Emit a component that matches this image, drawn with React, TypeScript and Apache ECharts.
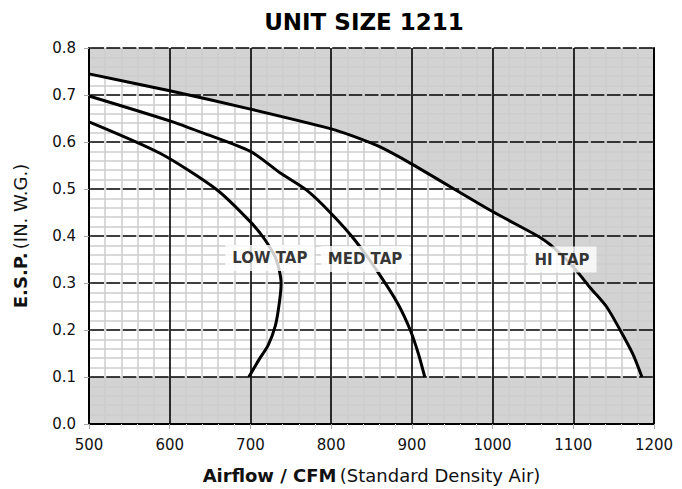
import React, { useEffect, useRef } from "react";
import * as echarts from "echarts";

// ---- data ----
const lowTap: [number, number][] = [
  [500, 0.643], [588, 0.576], [658, 0.499], [700, 0.43], [718, 0.392],
  [732, 0.35], [738, 0.3], [736, 0.26], [731, 0.21], [722, 0.168],
  [711, 0.138], [698, 0.1],
];
const medTap: [number, number][] = [
  [500, 0.698], [600, 0.645], [640, 0.62], [700, 0.58], [737, 0.534],
  [770, 0.497], [800, 0.448], [830, 0.39], [860, 0.318], [883, 0.255],
  [898, 0.2], [908, 0.15], [916, 0.1],
];
const hiTap: [number, number][] = [
  [500, 0.745], [600, 0.709], [700, 0.67], [800, 0.628], [828, 0.612],
  [860, 0.59], [900, 0.553], [1000, 0.452], [1058, 0.398], [1071, 0.382],
  [1090, 0.352], [1106, 0.322], [1121, 0.29], [1141, 0.25], [1158, 0.2],
  [1174, 0.148], [1185, 0.1],
];
const rightEdge: [number, number][] = [[1200, 0.1]];
const tapNames = ["LOW TAP", "MED TAP", "HI TAP"];
const tapLabelAnchors: [number, number][] = [[724, 0.353], [842, 0.351], [1086, 0.35]];
const operatingFloor = 0.1;
const xRange = [500, 1200];
const yRange = [0, 0.8];

const FONT = "'DejaVu Sans', 'Open Sans', sans-serif";
const GRAY = "#d3d3d3";

export default function App() {
  const ref = useRef<HTMLDivElement>(null);
  useEffect(() => {
    if (!ref.current) return;
    const chart = echarts.init(ref.current, null, { renderer: "svg" });
    const minorPx = 16.14;
    chart.setOption({
      animation: false,
      backgroundColor: "#ffffff",
      title: {
        text: "UNIT SIZE 1211",
        left: 359,
        top: 5,
        textAlign: "center",
        textStyle: { fontFamily: FONT, fontWeight: "bold", fontSize: 23, color: "#000" },
      },
      grid: {
        left: 89, right: 28, top: 48, bottom: 64,
        show: true, backgroundColor: "#ffffff", borderWidth: 0,
      },
      xAxis: [
        {
          type: "value", min: xRange[0], max: xRange[1], interval: 100, position: "bottom", z: 3,
          axisLine: { show: true, onZero: false, lineStyle: { color: "#000", width: 2 } },
          axisTick: { show: true, length: 5, lineStyle: { color: "#aaa" } },
          minorTick: { show: true, splitNumber: 5, length: 4, lineStyle: { color: "#ddd" } },
          splitLine: { show: true, lineStyle: { color: "#000", width: 1.6 } },
          minorSplitLine: { show: true, lineStyle: { color: "#cdcdcd", width: 1.5 } },
          axisLabel: { fontFamily: FONT, fontSize: 15, color: "#111", margin: 13, formatter: (v: number) => String(v) },
          name: "{b|Airflow / CFM} {r|(Standard Density Air)}",
          nameLocation: "middle",
          nameGap: 42,
          nameTextStyle: {
            rich: {
              b: { fontFamily: FONT, fontWeight: "bold", fontSize: 18, color: "#111" },
              r: { fontFamily: FONT, fontSize: 18, color: "#111" },
            },
          },
        },
        {
          type: "value", min: xRange[0], max: xRange[1], interval: 100, position: "top", z: 3,
          axisLine: { show: true, lineStyle: { color: "#000", width: 2 } },
          axisTick: { show: false }, axisLabel: { show: false }, splitLine: { show: false },
        },
      ],
      yAxis: [
        {
          type: "value", min: yRange[0], max: yRange[1], interval: 0.1, position: "left", z: 3,
          axisLine: { show: true, onZero: false, lineStyle: { color: "#000", width: 2 } },
          axisTick: { show: true, length: 5, lineStyle: { color: "#aaa" } },
          minorTick: { show: false, splitNumber: 5 },
          splitLine: {
            show: true,
            lineStyle: { color: "#000", width: 1.6, type: [minorPx - 2.2, 2.2], dashOffset: minorPx - 1.1 },
          },
          minorSplitLine: { show: true, lineStyle: { color: "#cdcdcd", width: 1.5 } },
          axisLabel: { fontFamily: FONT, fontSize: 15, color: "#111", margin: 13, formatter: (v: number) => v.toFixed(1) },
          name: "{b|E.S.P.} {r|(IN. W.G.)}",
          nameLocation: "middle",
          nameGap: 60,
          nameTextStyle: {
            rich: {
              b: { fontFamily: FONT, fontWeight: "bold", fontSize: 18, color: "#111" },
              r: { fontFamily: FONT, fontSize: 18, color: "#111" },
            },
          },
        },
        {
          type: "value", min: yRange[0], max: yRange[1], interval: 0.1, position: "right", z: 3,
          axisLine: { show: true, lineStyle: { color: "#000", width: 2 } },
          axisTick: { show: false }, axisLabel: { show: false }, splitLine: { show: false },
        },
      ],
      series: [
        {
          type: "line",
          data: [...hiTap, ...rightEdge],
          showSymbol: false,
          silent: true,
          z: 1,
          lineStyle: { width: 0 },
          areaStyle: { color: GRAY, opacity: 1, origin: "end" },
          markArea: {
            silent: true,
            itemStyle: { color: GRAY },
            data: [[{ yAxis: yRange[0] }, { yAxis: operatingFloor }]],
          },
        },
        ...[lowTap, medTap, hiTap].map((d) => ({
          type: "line",
          data: d,
          showSymbol: false,
          smooth: 0.25,
          z: 4,
          lineStyle: { color: "#000", width: 3 },
        })),
        {
          type: "scatter",
          z: 6,
          symbolSize: 1,
          itemStyle: { color: "rgba(0,0,0,0)" },
          data: tapNames.map((n, i) => ({ value: tapLabelAnchors[i], name: n })),
          label: {
            show: true,
            position: "inside",
            formatter: (p: any) => p.name,
            fontFamily: FONT,
            fontWeight: "bold",
            fontSize: 15,
            color: "#000",
            backgroundColor: "#ffffff",
            padding: [6, 7, 5, 7],
          },
        },
      ],
    });
    return () => chart.dispose();
  }, []);
  return (
    <div
      ref={ref}
      style={{ position: "fixed", left: 0, top: 0, width: 682, height: 489 }}
    />
  );
}
